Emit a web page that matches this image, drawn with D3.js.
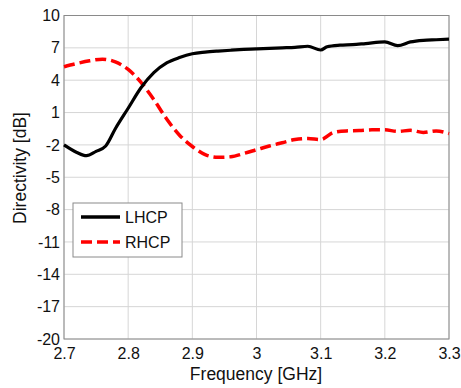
<!DOCTYPE html>
<html>
<head>
<meta charset="utf-8">
<script src="https://cdn.jsdelivr.net/npm/d3@7"></script>
<style>
  body { margin: 0; background: #fff; }
  text { font-family: "Liberation Sans", Arial, sans-serif; fill: #111; }
</style>
</head>
<body>
<svg id="chart"></svg>
<script>
// Data
const lhcpFreq = [2.70, 2.72, 2.735, 2.75, 2.765, 2.78, 2.80, 2.82, 2.84, 2.86, 2.88, 2.90, 2.92, 2.94, 2.96, 2.98, 3.00, 3.02, 3.04, 3.06, 3.08, 3.10, 3.11, 3.13, 3.15, 3.17, 3.20, 3.22, 3.24, 3.26, 3.28, 3.30];
const lhcpDir = [-2.0, -2.7, -3.0, -2.6, -2.1, -0.5, 1.4, 3.3, 4.7, 5.6, 6.1, 6.45, 6.6, 6.7, 6.78, 6.85, 6.9, 6.95, 7.0, 7.05, 7.15, 6.8, 7.1, 7.25, 7.3, 7.4, 7.55, 7.2, 7.55, 7.7, 7.75, 7.8];
const rhcpFreq = [2.70, 2.72, 2.74, 2.76, 2.78, 2.80, 2.82, 2.84, 2.86, 2.88, 2.90, 2.92, 2.94, 2.96, 2.98, 3.00, 3.02, 3.04, 3.06, 3.08, 3.10, 3.12, 3.14, 3.16, 3.18, 3.20, 3.22, 3.24, 3.26, 3.28, 3.30];
const rhcpDir = [5.25, 5.55, 5.8, 5.95, 5.7, 5.0, 3.8, 2.2, 0.4, -1.1, -2.15, -2.9, -3.15, -3.1, -2.8, -2.45, -2.1, -1.8, -1.5, -1.4, -1.5, -0.85, -0.7, -0.67, -0.6, -0.6, -0.75, -0.65, -0.85, -0.7, -0.95];
const xTicks = [2.7, 2.8, 2.9, 3.0, 3.1, 3.2, 3.3];
const yTicks = [-20, -17, -14, -11, -8, -5, -2, 1, 4, 7, 10];

const W = 461, H = 388;
const margin = { top: 15.5, right: 12, bottom: 49, left: 64 };
const width = W - margin.left - margin.right;
const height = H - margin.top - margin.bottom;

const svg = d3.select("#chart")
  .attr("width", W)
  .attr("height", H);

const g = svg.append("g")
  .attr("transform", "translate(" + margin.left + "," + margin.top + ")");

const x = d3.scaleLinear().domain([2.7, 3.3]).range([0, width]);
const y = d3.scaleLinear().domain([-20, 10]).range([height, 0]);

// Grid lines
g.append("g")
  .selectAll("line")
  .data(xTicks)
  .enter().append("line")
  .attr("x1", d => x(d)).attr("x2", d => x(d))
  .attr("y1", 0).attr("y2", height)
  .attr("stroke", "#d6d6d6").attr("stroke-width", 1);

g.append("g")
  .selectAll("line")
  .data(yTicks)
  .enter().append("line")
  .attr("x1", 0).attr("x2", width)
  .attr("y1", d => y(d)).attr("y2", d => y(d))
  .attr("stroke", "#d6d6d6").attr("stroke-width", 1);

// Axes (plain hyphen minus like the original)
const xAxis = g.append("g")
  .attr("transform", "translate(0," + height + ")")
  .call(d3.axisBottom(x).tickValues(xTicks).tickSize(0).tickPadding(9)
    .tickFormat(d => String(+d.toFixed(1))));
const yAxis = g.append("g")
  .call(d3.axisLeft(y).tickValues(yTicks).tickSize(0).tickPadding(4)
    .tickFormat(d => String(d)));
[xAxis, yAxis].forEach(a => {
  a.select(".domain").remove();
  a.selectAll("text")
    .style("font-family", '"Liberation Sans", Arial, sans-serif')
    .style("font-size", "16px")
    .attr("fill", "#111");
});

// Plot box
g.append("rect")
  .attr("width", width).attr("height", height)
  .attr("fill", "none")
  .attr("stroke", "#8a8a8a").attr("stroke-width", 1);

// Lines
const line = d3.line().x(d => x(d[0])).y(d => y(d[1])).curve(d3.curveMonotoneX);
const lhcp = lhcpFreq.map((f, i) => [f, lhcpDir[i]]);
const rhcp = rhcpFreq.map((f, i) => [f, rhcpDir[i]]);

g.append("path")
  .datum(rhcp)
  .attr("d", line)
  .attr("fill", "none")
  .attr("stroke", "#ff0000")
  .attr("stroke-width", 3.5)
  .attr("stroke-dasharray", "11,5");

g.append("path")
  .datum(lhcp)
  .attr("d", line)
  .attr("fill", "none")
  .attr("stroke", "#000")
  .attr("stroke-width", 3.2)
  .attr("stroke-linejoin", "round");

// Legend
const legend = svg.append("g").attr("transform", "translate(73,203)");
legend.append("rect")
  .attr("width", 109).attr("height", 54)
  .attr("fill", "#fff")
  .attr("stroke", "#8a8a8a").attr("stroke-width", 1);
const items = [
  { name: "LHCP", color: "#000", dash: null },
  { name: "RHCP", color: "#ff0000", dash: "11,5" }
];
items.forEach((it, i) => {
  const yy = 14 + i * 25;
  legend.append("line")
    .attr("x1", 8).attr("x2", 47)
    .attr("y1", yy).attr("y2", yy)
    .attr("stroke", it.color)
    .attr("stroke-width", 3.5)
    .attr("stroke-dasharray", it.dash);
  legend.append("text")
    .attr("x", 52).attr("y", yy + 6)
    .style("font-size", "16px")
    .text(it.name);
});

// Axis labels
svg.append("text")
  .attr("x", 256).attr("y", 380)
  .attr("text-anchor", "middle")
  .style("font-size", "17.5px")
  .text("Frequency [GHz]");

svg.append("text")
  .attr("transform", "translate(26,168) rotate(-90)")
  .attr("text-anchor", "middle")
  .style("font-size", "17.5px")
  .text("Directivity [dB]");
</script>
</body>
</html>
